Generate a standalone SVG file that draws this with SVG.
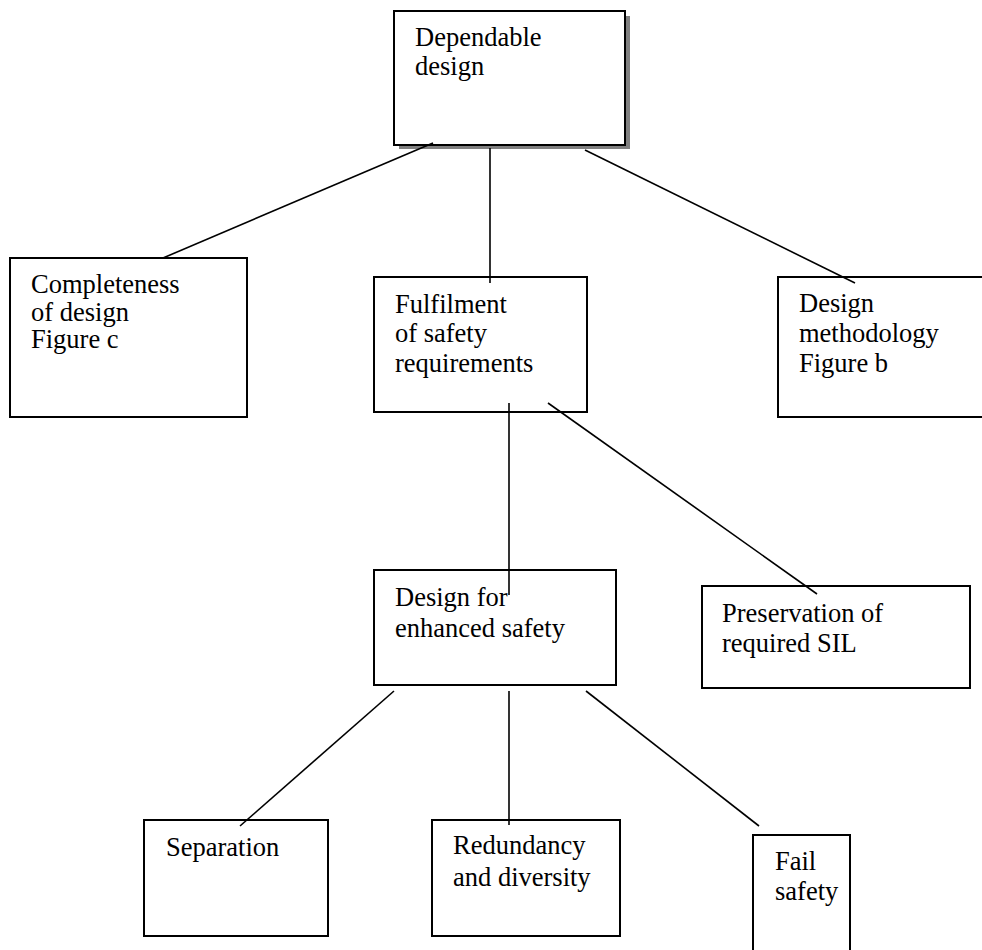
<svg xmlns="http://www.w3.org/2000/svg" width="982" height="950" viewBox="0 0 982 950">
  <style>
    .box { fill: #ffffff; stroke: #000000; stroke-width: 2; }
    .shadow { fill: #808080; }
    .link { stroke: #000000; stroke-width: 1.6; fill: none; }
    text { font-family: "Liberation Serif", "Times New Roman", serif; font-size: 26.5px; fill: #000000; }
  </style>
  <rect width="982" height="950" fill="#ffffff"/>

  <g id="node-dependable-design">
    <rect class="shadow" x="399" y="16" width="231" height="133"/>
    <rect class="box" x="394" y="11" width="231" height="134"/>
    <text x="415" y="46">Dependable</text>
    <text x="415" y="75">design</text>
  </g>

  <g id="node-completeness">
    <rect class="box" x="10" y="258" width="237" height="159"/>
    <text x="31" y="293">Completeness</text>
    <text x="31" y="321">of design</text>
    <text x="31" y="348">Figure c</text>
  </g>

  <g id="node-fulfilment">
    <rect class="box" x="374" y="277" width="213" height="135"/>
    <text x="395" y="313">Fulfilment</text>
    <text x="395" y="342">of safety</text>
    <text x="395" y="372">requirements</text>
  </g>

  <g id="node-methodology">
    <rect class="box" x="778" y="277" width="220" height="140"/>
    <text x="799" y="312">Design</text>
    <text x="799" y="342">methodology</text>
    <text x="799" y="372">Figure b</text>
  </g>

  <g id="node-enhanced-safety">
    <rect class="box" x="374" y="570" width="242" height="115"/>
    <text x="395" y="606">Design for</text>
    <text x="395" y="637">enhanced safety</text>
  </g>

  <g id="node-preservation">
    <rect class="box" x="702" y="586" width="268" height="102"/>
    <text x="722" y="622">Preservation of</text>
    <text x="722" y="652">required SIL</text>
  </g>

  <g id="node-separation">
    <rect class="box" x="144" y="820" width="184" height="116"/>
    <text x="166" y="856">Separation</text>
  </g>

  <g id="node-redundancy">
    <rect class="box" x="432" y="820" width="188" height="116"/>
    <text x="453" y="854">Redundancy</text>
    <text x="453" y="886">and diversity</text>
  </g>

  <g id="node-fail-safety">
    <rect class="box" x="753" y="835" width="97" height="130"/>
    <text x="775" y="870">Fail</text>
    <text x="775" y="900">safety</text>
  </g>

  <g id="connectors">
    <line class="link" x1="433" y1="143" x2="163" y2="258"/>
    <line class="link" x1="490" y1="148" x2="490" y2="283"/>
    <line class="link" x1="585" y1="150" x2="855" y2="283"/>
    <line class="link" x1="509" y1="403" x2="509" y2="595"/>
    <line class="link" x1="548" y1="403" x2="817" y2="594"/>
    <line class="link" x1="394" y1="691" x2="240" y2="826"/>
    <line class="link" x1="509" y1="691" x2="509" y2="825"/>
    <line class="link" x1="586" y1="691" x2="759" y2="826"/>
  </g>
</svg>
